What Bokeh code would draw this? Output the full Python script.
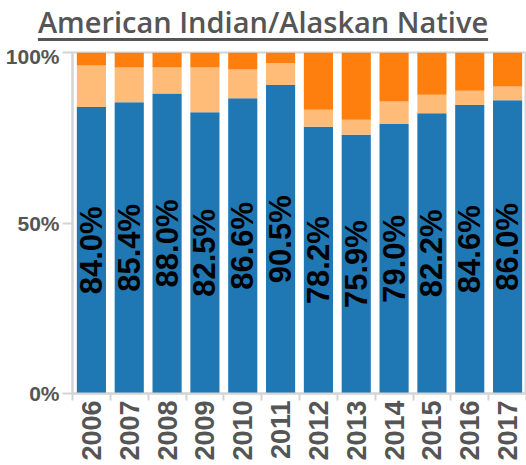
from math import pi
from bokeh.plotting import figure
from bokeh.layouts import column
from bokeh.models import Range1d, FixedTicker, ColumnDataSource, Div
from bokeh.core.properties import value
from bokeh.embed import file_html
from bokeh.resources import INLINE

years = ["2006", "2007", "2008", "2009", "2010", "2011", "2012", "2013", "2014", "2015", "2016", "2017"]
own = [84.0, 85.4, 88.0, 82.5, 86.6, 90.5, 78.2, 75.9, 79.0, 82.2, 84.6, 86.0]
mid = [12.2, 10.2, 7.6, 13.1, 8.4, 6.4, 5.0, 4.4, 6.6, 5.4, 4.2, 4.0]
rest = [3.8, 4.4, 4.4, 4.4, 5.0, 3.1, 16.8, 19.7, 14.4, 12.4, 11.2, 10.0]
y_ticks = [0, 50, 100]
y_tick_labels = ["0%", "50%", "100%"]
title_text = "American Indian/Alaskan Native"

GRAY = "#555555"
AXIS = "#d4d4d4"
FONT = "Liberation Sans"

n = len(years)
xs = [i + 0.5 for i in range(n)]
src = ColumnDataSource(dict(
    x=xs, own=own, mid=mid, rest=rest,
    lab=[f"{v:.1f}%" for v in own],
    ly=[v / 2 for v in own],
))

title_style = ("text-align:center; width:526px; font-family:'Open Sans'; font-weight:600; "
               "font-size:29px; line-height:36px; color:%s; padding-top:4px; "
               "text-decoration:underline; text-decoration-thickness:3px; "
               "text-underline-offset:5px; text-decoration-color:%s;" % (GRAY, GRAY))
title = Div(text='<div style="%s">%s</div>' % (title_style, title_text),
            width=526, height=44, margin=0)

p = figure(width=526, height=421, output_backend="svg", toolbar_location=None,
           x_range=Range1d(0, n), y_range=Range1d(0, 100),
           min_border_left=72, min_border_right=0, min_border_top=8, min_border_bottom=72,
           margin=0)

p.vbar_stack(["own", "mid", "rest"], x="x", width=0.77, source=src,
             color=["#1f77b4", "#ffbb78", "#ff7f0e"], line_color=None)

p.text(x="x", y="ly", text="lab", source=src, angle=pi / 2,
       text_align="center", text_baseline="middle",
       text_font=value(FONT), text_font_style="bold", text_font_size="31px",
       text_color="black")

p.xgrid.visible = False
p.ygrid.visible = False
p.outline_line_color = AXIS
p.outline_line_width = 2

xa = p.xaxis[0]
xa.ticker = FixedTicker(ticks=xs, minor_ticks=list(range(n + 1)))
xa.major_label_overrides = {x: y for x, y in zip(xs, years)}
xa.major_label_orientation = pi / 2
xa.major_tick_out = 0
xa.major_tick_in = 0
xa.minor_tick_out = 7
xa.minor_tick_in = 0
xa.minor_tick_line_color = AXIS
xa.minor_tick_line_width = 2
xa.axis_line_color = AXIS
xa.axis_line_width = 2
xa.major_label_standoff = 0
xa.major_label_text_font = FONT
xa.major_label_text_font_style = "bold"
xa.major_label_text_font_size = "27px"
xa.major_label_text_color = GRAY

ya = p.yaxis[0]
ya.ticker = FixedTicker(ticks=y_ticks)
ya.major_label_overrides = {t: l for t, l in zip(y_ticks, y_tick_labels)}
ya.major_tick_out = 10
ya.major_tick_in = 0
ya.minor_tick_out = 0
ya.minor_tick_in = 0
ya.major_tick_line_color = AXIS
ya.major_tick_line_width = 2
ya.axis_line_color = AXIS
ya.axis_line_width = 2
ya.major_label_standoff = 3
ya.major_label_text_font = FONT
ya.major_label_text_font_style = "bold"
ya.major_label_text_font_size = "21px"
ya.major_label_text_color = GRAY

layout = column(title, p, spacing=0)
open("out.html", "w").write(file_html(layout, INLINE))
